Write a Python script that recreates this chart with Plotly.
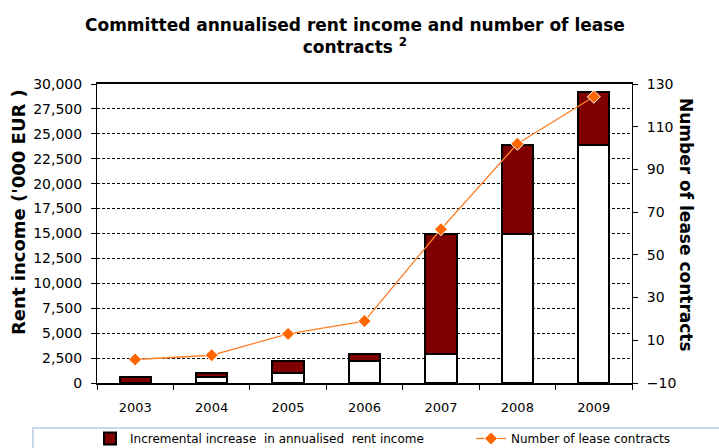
import plotly.graph_objects as go

years = ["2003", "2004", "2005", "2006", "2007", "2008", "2009"]
base_income = [0, 600, 1000, 2250, 2900, 15000, 23900]
incremental_income = [600, 400, 1250, 650, 12100, 8900, 5300]
lease_contracts = [1, 3, 13, 19, 62, 102, 124]

left_ticks = list(range(0, 30001, 2500))
right_ticks = list(range(-10, 131, 20))

W, H = 719, 448
L, R, T, B = 97, 87, 84, 65
pw, ph = W - L - R, H - T - B

def px_x(x):
    return (x - L) / pw

def px_y(y):
    return (H - B - y) / ph

fig = go.Figure()
fig.add_trace(go.Bar(
    x=years, y=base_income, name="Base", showlegend=False,
    marker=dict(color="white", line=dict(color="black", width=2)),
    hoverinfo="skip",
))
fig.add_trace(go.Bar(
    x=years, y=incremental_income,
    name="Incremental increase  in annualised  rent income",
    marker=dict(color="#800000", line=dict(color="black", width=2)),
    legend="legend",
))
fig.add_trace(go.Scatter(
    x=years, y=lease_contracts, name="Number of lease contracts",
    yaxis="y2", mode="lines+markers",
    line=dict(color="#FF7F27", width=1.3),
    marker=dict(symbol="diamond", size=10, color="#FF6600",
                line=dict(color="white", width=1)),
    legend="legend2",
))

tickfont = dict(family="DejaVu Sans", size=14, color="black")
legfont = dict(family="DejaVu Sans", size=12, color="black")

fig.update_layout(
    width=W, height=H,
    margin=dict(l=L, r=R, t=T, b=B, autoexpand=False),
    paper_bgcolor="white", plot_bgcolor="white",
    barmode="stack", bargap=0.59,
    xaxis=dict(
        type="category", showline=True, linecolor="black", linewidth=1.5,
        mirror=True, ticks="outside", ticklen=5, tickcolor="black",
        tickson="boundaries", ticklabelstandoff=12,
        tickfont=dict(family="DejaVu Sans", size=13, color="black"),
        showgrid=False,
    ),
    yaxis=dict(
        range=[0, 30000], tickvals=left_ticks, tickformat=",",
        showline=True, linecolor="black", linewidth=1,
        ticks="outside", ticklen=5, tickcolor="black", ticklabelstandoff=6,
        tickfont=tickfont,
        showgrid=True, gridcolor="black", gridwidth=1, griddash="3px,2px",
        zeroline=False,
    ),
    yaxis2=dict(
        range=[-10, 130], tickvals=right_ticks, overlaying="y", side="right",
        showline=True, linecolor="black", linewidth=1,
        ticks="outside", ticklen=5, tickcolor="black", ticklabelstandoff=6,
        tickfont=tickfont, showgrid=False, zeroline=False,
    ),
    legend=dict(
        orientation="h", x=px_x(90), y=px_y(424), xanchor="left", yanchor="top",
        font=legfont, bgcolor="rgba(0,0,0,0)",
    ),
    legend2=dict(
        orientation="h", x=px_x(471), y=px_y(424), xanchor="left", yanchor="top",
        font=legfont, bgcolor="rgba(0,0,0,0)",
    ),
    annotations=[
        dict(text="<b>Committed annualised rent income and number of lease<br>contracts <sup>2</sup></b>",
             xref="paper", yref="paper", x=px_x(355), y=px_y(36),
             xanchor="center", yanchor="middle", showarrow=False,
             font=dict(family="DejaVu Sans", size=17, color="black")),
        dict(text="<b>Rent income ('000 EUR )</b>", xref="paper", yref="paper",
             x=px_x(18), y=px_y(212), textangle=-90, showarrow=False,
             xanchor="center", yanchor="middle",
             font=dict(family="DejaVu Sans", size=18, color="black")),
        dict(text="<b>Number of lease contracts</b>", xref="paper", yref="paper",
             x=px_x(686), y=px_y(225), textangle=90, showarrow=False,
             xanchor="center", yanchor="middle",
             font=dict(family="DejaVu Sans", size=17, color="black")),
    ],
    shapes=[
        dict(type="rect", xref="paper", yref="paper",
             x0=px_x(33), x1=px_x(780), y0=px_y(428), y1=px_y(470),
             line=dict(color="#B8CCE4", width=1.5), fillcolor="rgba(0,0,0,0)"),
    ],
)

fig.write_html("out.html")
